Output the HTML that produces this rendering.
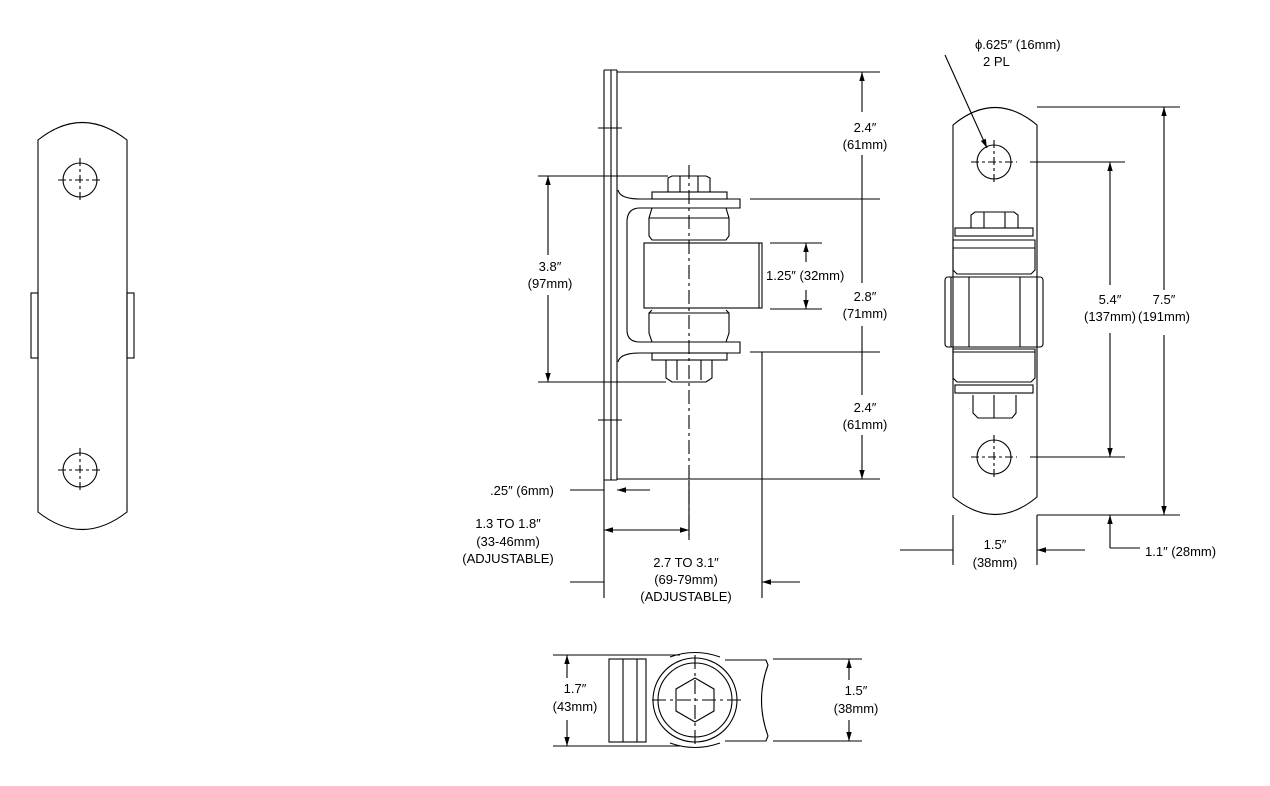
<!DOCTYPE html>
<html><head><meta charset="utf-8"><style>
html,body{margin:0;padding:0;background:#fff}
svg{display:block}
text{font-family:"Liberation Sans",sans-serif;font-size:13px;fill:#000}
</style></head><body>
<svg width="1270" height="786" viewBox="0 0 1270 786" xmlns="http://www.w3.org/2000/svg">
<defs>
<marker id="a" viewBox="0 0 10 10" refX="10" refY="5" markerWidth="9" markerHeight="9" markerUnits="userSpaceOnUse" orient="auto-start-reverse"><path d="M0,2 L10,5 L0,8z" fill="#000"/></marker>
</defs>
<g fill="none" stroke="#000" stroke-width="1.1">
<path d="M38,140 Q82,105 127,140 L127,512 Q82,547 38,512 Z"/>
<rect x="31" y="293" width="7" height="65"/><rect x="127" y="293" width="7" height="65"/>
<circle cx="80" cy="180" r="17"/><circle cx="80" cy="470" r="17"/>
<path d="M58,180h44M80,158v44M58,470h44M80,448v44" stroke-dasharray="8,3,3,3"/>

<path d="M604,70V480M611,70V480M617,70V480M604,70h13M604,480h13"/>
<path d="M598,128h24M598,420h24"/>
<path d="M617,72H880M617,479H880"/>
<path d="M618,190 Q620,199 640,199 H740 V208 H640 Q627,208 627,222 V330 Q627,342 640,342 H740 V353 H640 Q620,353 618,362"/>
<rect x="652" y="192" width="75" height="7"/>
<path d="M668,192 V178 L672,176 H706 L710,178 V192 M680,176V192 M698,176V192"/>
<path d="M652,208 L649,218 V236 L652,240 H726 L729,236 V218 L726,208 M649,218H729"/>
<rect x="644" y="243" width="118" height="65"/><path d="M759,243V308"/>
<path d="M652,310 L649,313 V333 L652,342 H726 L729,333 V313 L726,310 M649,313H729"/>
<rect x="652" y="353" width="75" height="7"/>
<path d="M666,360 V378 L672,382 H706 L712,378 V360 M677,360V380 M701,360V380"/>
<path d="M689,165V540" stroke-dasharray="14,4,3,4"/>
<path d="M538,176H668M538,382H666"/>
<path d="M548,176V255M548,295V382" marker-start="url(#a)" marker-end="url(#a)"/>
<path d="M750,199H880M750,352H880M770,243H822M770,309H822"/>
<path d="M862,72V112 M862,155V199 M862,199V283 M862,326V352 M862,352V395 M862,435V479" marker-start="url(#a)" marker-end="url(#a)"/>
<path d="M806,243V262M806,290V309" marker-start="url(#a)" marker-end="url(#a)"/>
<path d="M570,490H604M650,490H617" marker-end="url(#a)"/>
<path d="M604,480V598M762,352V598M689,480V540"/>
<path d="M604,530H689" marker-start="url(#a)" marker-end="url(#a)"/>
<path d="M570,582H604M800,582H762" marker-end="url(#a)"/>

<path d="M953,125 Q995,90 1037,125 L1037,497 Q995,532 953,497 Z"/>
<circle cx="994" cy="162" r="17"/><circle cx="994" cy="457" r="17"/>
<path d="M971,162h46M994,140v44M971,457h46M994,435v44" stroke-dasharray="8,3,3,3"/>
<path d="M971,228 V215 L975,212 H1014 L1018,215 V228 M984,212V228 M1005,212V228"/>
<rect x="955" y="228" width="78" height="8"/>
<path d="M953,240 H1035 V270 L1031,274 H957 L953,270 Z M953,248H1035"/>
<rect x="945" y="277" width="98" height="70" rx="3"/><path d="M951,277V347M1037,277V347M969,277V347M1020,277V347"/>
<path d="M953,349 H1035 V378 L1031,382 H957 L953,378 Z M953,349h82v3h-82z"/>
<rect x="955" y="385" width="78" height="8"/>
<path d="M973,395 V413 L978,418 H1012 L1016,413 V395 M994,395V418"/>
<path d="M1037,107H1180M1037,515H1180M1030,162H1125M1030,457H1125"/>
<path d="M1164,107V290M1164,335V515" marker-start="url(#a)" marker-end="url(#a)"/>
<path d="M1110,162V285M1110,333V457" marker-start="url(#a)" marker-end="url(#a)"/>
<path d="M1110,548V515" marker-end="url(#a)"/><path d="M1110,548H1140"/>
<path d="M953,515V565M1037,515V565"/>
<path d="M900,550H953M1085,550H1037" marker-end="url(#a)"/>
<path d="M945,55 L987,148" marker-end="url(#a)"/>

<rect x="609" y="659" width="37" height="83"/><path d="M623,659V742M637,659V742"/>
<path d="M725,660 H766 L768,665 Q755,700 768,736 L766,741 H725"/>
<path d="M670,657 Q695,648 720,657 M670,743 Q695,752 720,743"/>
<circle cx="695" cy="700" r="42"/><circle cx="695" cy="700" r="37"/>
<path d="M695,678 L714,689 V711 L695,722 L676,711 V689 Z"/>
<path d="M652,700H745M695,655V745" stroke-dasharray="14,4,3,4"/>
<path d="M553,655H680M553,746H680M773,659H862M773,741H862"/>
<path d="M567,655V678M567,720V746" marker-start="url(#a)" marker-end="url(#a)"/>
<path d="M849,659V680M849,720V741" marker-start="url(#a)" marker-end="url(#a)"/>
</g>

<g text-anchor="middle">
<text x="550" y="271">3.8″</text><text x="550" y="288">(97mm)</text>
<text x="865" y="132">2.4″</text><text x="865" y="149">(61mm)</text>
<text x="865" y="301">2.8″</text><text x="865" y="318">(71mm)</text>
<text x="865" y="412">2.4″</text><text x="865" y="429">(61mm)</text>
<text x="508" y="528">1.3 TO 1.8″</text><text x="508" y="546">(33-46mm)</text><text x="508" y="563">(ADJUSTABLE)</text>
<text x="686" y="567">2.7 TO 3.1″</text><text x="686" y="584">(69-79mm)</text><text x="686" y="601">(ADJUSTABLE)</text>
<text x="1110" y="304">5.4″</text><text x="1110" y="321">(137mm)</text>
<text x="1164" y="304">7.5″</text><text x="1164" y="321">(191mm)</text>
<text x="995" y="549">1.5″</text><text x="995" y="567">(38mm)</text>
<text x="575" y="693">1.7″</text><text x="575" y="711">(43mm)</text>
<text x="856" y="695">1.5″</text><text x="856" y="713">(38mm)</text>
</g>
<text x="766" y="280">1.25″ (32mm)</text>
<text x="490" y="495">.25″ (6mm)</text>
<text x="1145" y="556">1.1″ (28mm)</text>
<text x="975" y="49">ϕ.625″ (16mm)</text>
<text x="983" y="66">2 PL</text>
</svg>
</body></html>
